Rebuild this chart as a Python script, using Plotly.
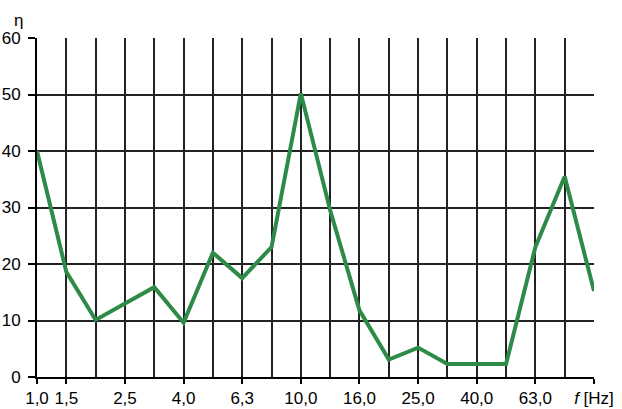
import plotly.graph_objects as go

# band index positions (20 grid positions) and observed vertex values
x_idx = [0, 1, 2, 4, 5, 6, 7, 8, 9, 10, 11, 12, 13, 14, 16, 17, 18, 19]
eta = [40, 18.6, 10.1, 15.9, 9.6, 22.0, 17.5, 23.0, 50.2, 29.5, 11.8, 3.1, 5.2, 2.3, 2.3, 23.0, 35.5, 15.2]

tick_pos = [0, 1, 3, 5, 7, 9, 11, 13, 15, 17, 19]
tick_labels = ["1,0", "1,5", "2,5", "4,0", "6,3", "10,0", "16,0", "25,0", "40,0", "63,0", "<i>f</i> [Hz]"]
y_ticks = [0, 10, 20, 30, 40, 50, 60]

font = dict(family="Liberation Sans, Arial, sans-serif", size=17, color="black")

fig = go.Figure()
fig.add_trace(go.Scatter(
    x=x_idx, y=eta, mode="lines",
    line=dict(color="#2e8b47", width=4),
    showlegend=False, cliponaxis=False,
))

fig.update_layout(
    width=622, height=409,
    margin=dict(l=37, r=28, t=38, b=32),
    paper_bgcolor="white", plot_bgcolor="white",
    font=font,
    annotations=[dict(text="η", xref="paper", yref="paper", x=-0.034, y=1.053,
                      xanchor="center", yanchor="middle",
                      showarrow=False, font=dict(family="Liberation Sans, Arial", size=17))],
)
fig.update_xaxes(
    range=[0, 19], tickmode="array", tickvals=tick_pos, ticktext=tick_labels,
    showgrid=True, gridcolor="#222", gridwidth=1.5,
    minor=dict(tickmode="linear", tick0=0, dtick=1, showgrid=True, gridcolor="#222", gridwidth=1.5, ticks=""),
    ticks="outside", ticklen=5, tickwidth=1.5, tickcolor="black",
    showline=True, linecolor="black", linewidth=2, zeroline=False,
    tickfont=font, automargin=False, ticklabelstandoff=0,
)
fig.update_yaxes(
    range=[0, 60], tickmode="array", tickvals=y_ticks,
    showgrid=True, gridcolor="#222", gridwidth=1.5,
    ticks="outside", ticklen=7, tickwidth=1.5, tickcolor="black",
    showline=True, linecolor="black", linewidth=2, zeroline=False,
    tickfont=font, automargin=False, ticklabelstandoff=4,
)

fig.write_html("out.html", config={"displayModeBar": False},
               post_script="document.body.style.margin='0';")
